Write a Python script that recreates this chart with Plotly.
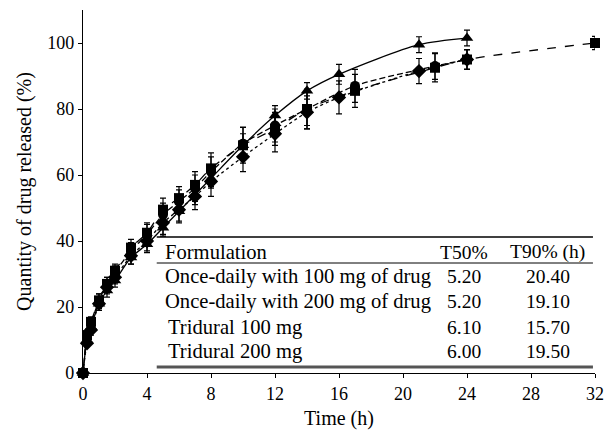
import plotly.graph_objects as go

# ---------------- data ----------------
t_tri = [0, 0.25, 0.5, 1, 1.5, 2, 3, 4, 5, 6, 7, 8, 10, 12, 14, 16, 21, 24]
v_tri = [0, 10, 14, 21, 25, 28, 35, 39, 44, 49, 54, 59, 69, 78, 85.5, 90.5, 99.5, 101.5]
e_tri = [0, 1, 1.5, 1.5, 2, 2, 2, 2.5, 2.5, 3, 3, 3, 3.5, 3, 2.5, 3, 2.4, 2.4]

t_dia = [0, 0.25, 0.5, 1, 1.5, 2, 3, 4, 5, 6, 7, 8, 10, 12, 14, 16, 21, 24]
v_dia = [0, 9, 13, 21, 26, 29, 35.5, 40, 45.5, 49.5, 53.5, 58, 65.5, 72.5, 79, 83.5, 91.5, 95]
e_dia = [0, 1, 1.5, 2, 2, 2, 2.5, 3, 3.5, 4, 4, 4.5, 4.5, 5.5, 5, 5, 3.8, 3]

t_sq = [0, 0.25, 0.5, 1, 1.5, 2, 3, 4, 5, 6, 7, 8, 10, 12, 14, 17, 22, 24, 32]
v_sq = [0, 11.5, 15.5, 22, 27, 31, 38, 42.5, 49.5, 53, 57, 62, 69, 74, 80, 85.5, 92.5, 95, 100]
e_sq = [0, 1, 1.5, 2, 2, 2, 2.5, 3, 3.5, 3.5, 4, 4.7, 5.4, 5, 5, 5, 4.3, 3, 2]

t_cir = [0, 0.25, 0.5, 1, 1.5, 2, 3, 4, 5, 6, 7, 8, 10, 12, 14, 17, 22, 24]
v_cir = [0, 11, 15, 22, 27, 30.5, 37, 42, 48, 52, 56, 61, 69.5, 75, 80, 87, 93, 95]
e_cir = [0, 1, 1.5, 2, 2, 2, 2.5, 3, 3.5, 3.5, 4, 4.5, 5, 5, 6, 5, 4, 3]

formulations = ["Once-daily with 100 mg of drug", "Once-daily with 200 mg of drug",
                "Tridural 100 mg", "Tridural 200 mg"]
t50 = ["5.20", "5.20", "6.10", "6.00"]
t90 = ["20.40", "19.10", "15.70", "19.50"]
headers = ["Formulation", "T50%", "T90% (h)"]

FONT = "Liberation Serif"

fig = go.Figure()

def add_series(t, v, e, symbol, dash, shape, size):
    fig.add_trace(go.Scatter(
        x=t, y=v, mode="lines+markers",
        line=dict(color="black", width=1.3, dash=dash, shape=shape, smoothing=0.8),
        marker=dict(symbol=symbol, size=size, color="black"),
        error_y=dict(type="data", array=e, visible=True, color="black", thickness=1.2, width=3),
        cliponaxis=False, showlegend=False))

add_series(t_dia, v_dia, e_dia, "diamond", "dot", "spline", 11)
add_series(t_cir, v_cir, e_cir, "circle", "6px,3px", "spline", 10)
add_series(t_sq, v_sq, e_sq, "square", "dash", "spline", 10)
add_series(t_tri, v_tri, e_tri, "triangle-up", "solid", "spline", 11)

# ---------------- table ----------------
x_left, x_right = 0.144, 0.996
y_top, y_head, y_bot = 0.3747, 0.303, 0.0165
shapes = [
    dict(type="line", xref="paper", yref="paper", x0=x_left, x1=x_right, y0=y_top, y1=y_top,
         line=dict(color="black", width=1.5)),
    dict(type="line", xref="paper", yref="paper", x0=x_left, x1=x_right, y0=y_head, y1=y_head,
         line=dict(color="black", width=1)),
    dict(type="line", xref="paper", yref="paper", x0=x_left, x1=x_right, y0=y_bot, y1=y_bot,
         line=dict(color="#555555", width=3)),
]
TXT = 20.6
NUM = 19.5
annotations = []
hy = 0.333
annotations.append(dict(x=0.157, y=hy, xref="paper", yref="paper", text=headers[0], showarrow=False,
                        xanchor="left", yanchor="middle", font=dict(family=FONT, size=TXT, color="black")))
annotations.append(dict(x=0.745, y=hy, xref="paper", yref="paper", text=headers[1], showarrow=False,
                        xanchor="center", yanchor="middle", font=dict(family=FONT, size=NUM, color="black")))
annotations.append(dict(x=0.908, y=hy, xref="paper", yref="paper", text=headers[2], showarrow=False,
                        xanchor="center", yanchor="middle", font=dict(family=FONT, size=NUM, color="black")))
row_y = [0.2645, 0.1956, 0.1267, 0.0579]
row_x = [0.157, 0.157, 0.163, 0.163]
for i, name in enumerate(formulations):
    annotations.append(dict(x=row_x[i], y=row_y[i], xref="paper", yref="paper", text=name,
                            showarrow=False, xanchor="left", yanchor="middle",
                            font=dict(family=FONT, size=TXT, color="black")))
    annotations.append(dict(x=0.745, y=row_y[i], xref="paper", yref="paper", text=t50[i], showarrow=False,
                            xanchor="center", yanchor="middle", font=dict(family=FONT, size=NUM, color="black")))
    annotations.append(dict(x=0.908, y=row_y[i], xref="paper", yref="paper", text=t90[i], showarrow=False,
                            xanchor="center", yanchor="middle", font=dict(family=FONT, size=NUM, color="black")))

fig.update_layout(
    width=614, height=436,
    margin=dict(l=83, r=10, t=10, b=63),
    paper_bgcolor="white", plot_bgcolor="white",
    font=dict(family=FONT, size=18, color="black"),
    shapes=shapes, annotations=annotations,
    xaxis=dict(range=[0, 32], tickvals=[0, 4, 8, 12, 16, 20, 24, 28, 32],
               showline=True, linecolor="black", linewidth=1.2, ticks="outside", ticklen=4,
               tickcolor="black", showgrid=False, zeroline=False,
               title=dict(text="Time (h)", font=dict(family=FONT, size=20), standoff=8),
               tickfont=dict(family=FONT, size=18)),
    yaxis=dict(range=[0, 110], tickvals=[0, 20, 40, 60, 80, 100],
               showline=True, linecolor="black", linewidth=1.2, ticks="outside", ticklen=4,
               tickcolor="black", showgrid=False, zeroline=False,
               title=dict(text="Quantity of drug released (%)", font=dict(family=FONT, size=20), standoff=10),
               tickfont=dict(family=FONT, size=18)),
)

fig.write_html("out.html")
